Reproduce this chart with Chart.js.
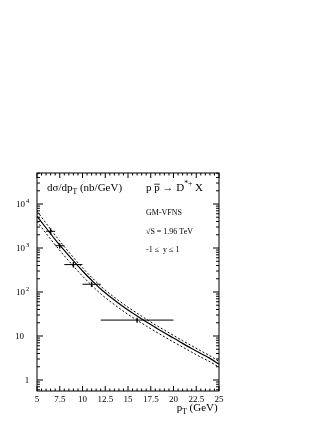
<!DOCTYPE html>
<html>
<head>
<meta charset="utf-8">
<script src="https://cdn.jsdelivr.net/npm/chart.js@4.4.1/dist/chart.umd.min.js"></script>
<style>
  html, body { margin: 0; padding: 0; background: #fff; }
  #wrap { width: 327px; height: 423px; position: relative; }
</style>
</head>
<body>
<div id="wrap"><canvas id="dstarChart"></canvas></div>
<script>
// theory curves (GM-VFNS)
const pT = [5, 6, 7, 8, 9, 10, 11, 12, 13, 14, 15, 16, 17, 18, 19, 20, 21, 22, 23, 24, 25];
const central = [5300, 2850, 1560, 880, 510, 300, 185, 117, 79, 55, 39, 28.5, 21, 15.7, 11.8, 9.0, 6.8, 5.2, 4.0, 3.1, 2.3];
const upper = [6900, 3650, 1950, 1075, 610, 355, 216, 136, 91, 63.5, 45, 33, 24.2, 18, 13.6, 10.3, 7.8, 6.0, 4.6, 3.55, 2.65];
const lower = [4050, 2150, 1180, 665, 388, 230, 143, 91, 62, 43.5, 31, 22.8, 16.9, 12.7, 9.6, 7.3, 5.6, 4.3, 3.3, 2.6, 1.95];

// CDF D*+ data points
const dataPt = [6.5, 7.5, 9, 11, 16];
const binLo = [6, 7, 8, 10, 12];
const binHi = [7, 8, 10, 12, 20];
const sigma = [2400, 1130, 420, 150, 23];
const sigmaErr = [400, 150, 60, 20, 3];

// axis labels
const xTicks = [5, 7.5, 10, 12.5, 15, 17.5, 20, 22.5, 25];
const yTicks = [1, 10, 100, 1000, 10000];
const yTickExp = ['', '', '2', '3', '4'];

const serif = "'Liberation Serif', 'DejaVu Serif', serif";

function pts(xs, ys) {
    return xs.map((v, i) => ({ x: v, y: ys[i] }));
}

// draw a run of text pieces: {t, sub, sup, bar}
function rich(ctx, parts, x, y, size) {
    parts.forEach(p => {
        let s = size, dy = 0;
        if (p.sub) { s = size * 0.7; dy = size * 0.3; }
        if (p.sup) { s = size * 0.7; dy = -size * 0.45; }
        ctx.font = s + 'px ' + serif;
        ctx.fillText(p.t, x, y + dy);
        const w = ctx.measureText(p.t).width;
        if (p.bar) {
            ctx.beginPath();
            ctx.moveTo(x, y - size * 0.62);
            ctx.lineTo(x + w, y - size * 0.62);
            ctx.lineWidth = 0.8;
            ctx.stroke();
        }
        x += w;
    });
}

const frame = {
    id: 'frame',
    afterDatasetsDraw(chart) {
        const { ctx, chartArea: a, scales: { x, y } } = chart;
        ctx.save();
        ctx.strokeStyle = '#000';
        ctx.fillStyle = '#000';
        ctx.lineWidth = 1;

        const seg = (x1, y1, x2, y2) => {
            ctx.beginPath(); ctx.moveTo(x1, y1); ctx.lineTo(x2, y2); ctx.stroke();
        };

        // data error bars
        dataPt.forEach((v, i) => {
            const py = y.getPixelForValue(sigma[i]);
            seg(x.getPixelForValue(binLo[i]), py, x.getPixelForValue(binHi[i]), py);
            const px = x.getPixelForValue(v);
            ctx.lineWidth = 1.4;
            seg(px, y.getPixelForValue(sigma[i] + sigmaErr[i]), px, y.getPixelForValue(sigma[i] - sigmaErr[i]));
            ctx.lineWidth = 1;
        });

        // frame
        ctx.strokeRect(a.left, a.top, a.right - a.left, a.bottom - a.top);

        // x ticks, major every 2.5, minor every 0.5
        for (let i = 0; i <= 40; i++) {
            const px = x.getPixelForValue(5 + i * 0.5);
            const len = i % 5 === 0 ? 5 : 2.5;
            seg(px, a.bottom, px, a.bottom - len);
            seg(px, a.top, px, a.top + len);
        }
        // y ticks, log minors
        for (let d = -1; d <= 4; d++) {
            for (let m = 1; m < 10; m++) {
                const v = m * Math.pow(10, d);
                if (v < y.min || v > y.max) continue;
                const py = y.getPixelForValue(v);
                const len = m === 1 ? 6 : 3;
                seg(a.left, py, a.left + len, py);
                seg(a.right, py, a.right - len, py);
            }
        }

        // tick labels
        ctx.textBaseline = 'alphabetic';
        ctx.font = '9px ' + serif;
        ctx.textAlign = 'center';
        xTicks.forEach(v => ctx.fillText(String(v), x.getPixelForValue(v), a.bottom + 11));
        yTicks.forEach((v, i) => {
            const py = y.getPixelForValue(v) + 3;
            ctx.font = '9px ' + serif;
            if (v === 1) {
                ctx.textAlign = 'center';
                ctx.fillText('1', 27, py);
                return;
            }
            ctx.textAlign = 'right';
            ctx.fillText('10', yTickExp[i] ? 25 : 24, py);
            if (yTickExp[i]) {
                ctx.textAlign = 'left';
                ctx.font = '6.5px ' + serif;
                ctx.fillText(yTickExp[i], 26, py - 4);
            }
        });

        // annotations
        ctx.textAlign = 'left';
        rich(ctx, [{ t: 'd\u03c3/dp' }, { t: 'T', sub: true }, { t: ' (nb/GeV)' }], a.left + 10, a.top + 18, 11);
        rich(ctx, [{ t: 'p ' }, { t: 'p', bar: true }, { t: ' \u2192 D' }, { t: '*+', sup: true }, { t: ' X' }], 146, a.top + 18, 11);
        ctx.font = '8px ' + serif;
        ctx.fillText('GM-VFNS', 146, 215);
        ctx.fillText('\u221aS = 1.96 TeV', 146, 234);
        ctx.fillText('-1 \u2264  y \u2264 1', 146, 252);

        // axis title
        const tw = 11;
        ctx.font = tw + 'px ' + serif;
        const w = ctx.measureText('p').width + ctx.measureText(' (GeV)').width + 5;
        rich(ctx, [{ t: 'p' }, { t: 'T', sub: true }, { t: ' (GeV)' }], a.right - w - 1, a.bottom + 20, tw);

        ctx.restore();
    }
};

const ctx = document.getElementById('dstarChart').getContext('2d');

new Chart(ctx, {
    type: 'line',
    data: {
        datasets: [{
            data: pts(pT, central),
            borderColor: '#000',
            borderWidth: 1.2
        }, {
            data: pts(pT, upper),
            borderColor: '#000',
            borderWidth: 1,
            borderDash: [2, 2]
        }, {
            data: pts(pT, lower),
            borderColor: '#000',
            borderWidth: 1,
            borderDash: [2, 2]
        }]
    },
    options: {
        responsive: true,
        maintainAspectRatio: false,
        animation: false,
        clip: { left: 0, top: 0, right: 0, bottom: 0 },
        layout: { padding: { left: 37, right: 108, top: 173, bottom: 32 } },
        elements: {
            point: { radius: 0 },
            line: { tension: 0.4, cubicInterpolationMode: 'monotone' }
        },
        scales: {
            x: { type: 'linear', min: 5, max: 25, display: false },
            y: { type: 'logarithmic', min: 0.562, max: 50700, display: false }
        },
        plugins: {
            legend: { display: false },
            tooltip: { enabled: false }
        }
    },
    plugins: [frame]
});
</script>
</body>
</html>
